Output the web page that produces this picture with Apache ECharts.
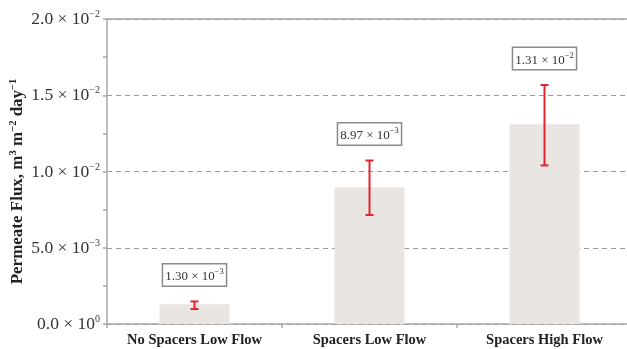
<!DOCTYPE html>
<html>
<head>
<meta charset="utf-8">
<script src="https://cdn.jsdelivr.net/npm/echarts@6/dist/echarts.min.js"></script>
<style>html,body{margin:0;padding:0;background:#fff;}#c{width:627px;height:349px;}</style>
</head>
<body>
<div id="c"></div>
<script>
var categories = ['No Spacers Low Flow', 'Spacers Low Flow', 'Spacers High Flow'];
var fluxValues = [0.00130, 0.00897, 0.0131];
var errLow = [0.00098, 0.00715, 0.0104];
var errHigh = [0.00148, 0.01072, 0.01567];
var labelMantissa = ['1.30', '8.97', '1.31'];
var labelExponent = ['−3', '−3', '−2'];
var yTickMantissa = {'0': '0.0', '0.005': '5.0', '0.01': '1.0', '0.015': '1.5', '0.02': '2.0'};
var yTickExponent = {'0': '0', '0.005': '−3', '0.01': '−2', '0.015': '−2', '0.02': '−2'};

var serif = '"Liberation Serif", "DejaVu Serif", serif';
var axisGray = '#a8a8a8';

var errData = categories.map(function (c, i) { return [i, errLow[i], errHigh[i], i]; });

var chart = echarts.init(document.getElementById('c'), null, {renderer: 'canvas'});
chart.setOption({
  animation: false,
  backgroundColor: '#ffffff',
  grid: {left: 107, top: 19, bottom: 25, right: -5, outerBoundsMode: 'none', containLabel: false, show: false},
  xAxis: [{
    type: 'category',
    data: categories,
    axisLine: {lineStyle: {color: axisGray, width: 1.5}},
    axisTick: {show: true, interval: 0, length: 4, lineStyle: {color: axisGray, width: 1.5}},
    axisLabel: {interval: 0, hideOverlap: false, fontFamily: serif, fontWeight: 'bold', fontSize: 14.5, color: '#222', margin: 9}
  }, {
    type: 'category',
    position: 'top',
    data: categories,
    axisLine: {show: true, lineStyle: {color: axisGray, width: 1.5}},
    axisTick: {show: false},
    axisLabel: {show: false}
  }],
  yAxis: {
    type: 'value',
    min: 0, max: 0.02, interval: 0.005,
    name: '{b|Permeate Flux, m}{s|3}{b| m}{s|−2}{b| day}{s|−1}',
    nameLocation: 'middle',
    nameGap: 81,
    nameMoveOverlap: false,
    nameTextStyle: {
      fontFamily: serif, fontWeight: 'bold', fontSize: 17, color: '#222',
      padding: [0, 20, 0, 0],
      rich: {
        b: {fontFamily: serif, fontWeight: 'bold', fontSize: 17, color: '#222', lineHeight: 18, verticalAlign: 'bottom'},
        s: {fontFamily: serif, fontWeight: 'bold', fontSize: 10.5, color: '#222', lineHeight: 18, verticalAlign: 'top'}
      }
    },
    axisLine: {show: true, lineStyle: {color: axisGray, width: 1.5}},
    axisTick: {show: true, length: 4, lineStyle: {color: axisGray, width: 1.5}},
    minorTick: {show: true, splitNumber: 2, length: 4, lineStyle: {color: axisGray, width: 1.5}},
    splitLine: {show: true, lineStyle: {color: '#9a9a9a', type: [5, 4], width: 1}},
    axisLabel: {
      margin: 7,
      formatter: function (v) {
        var k = String(Math.round(v * 1000) / 1000);
        if (yTickMantissa[k] === undefined) return '';
        return '{b|' + yTickMantissa[k] + ' × 10}{s|' + yTickExponent[k] + '}';
      },
      rich: {
        b: {fontFamily: serif, fontSize: 17.5, color: '#333', lineHeight: 19, verticalAlign: 'bottom'},
        s: {fontFamily: serif, fontSize: 10, color: '#333', lineHeight: 19, verticalAlign: 'top'}
      }
    }
  },
  series: [
    {
      type: 'bar',
      data: fluxValues,
      barWidth: '40%',
      itemStyle: {color: '#e9e5e3'},
      z: 2
    },
    {
      type: 'custom',
      data: errData,
      z: 5,
      renderItem: function (params, api) {
        var x = api.value(0);
        var idx = api.value(3);
        var lo = api.coord([x, api.value(1)]);
        var hi = api.coord([x, api.value(2)]);
        var cap = 4;
        var ls = {stroke: '#e0242c', lineWidth: 2};
        return {
          type: 'group',
          children: [
            {type: 'line', shape: {x1: lo[0], y1: lo[1], x2: hi[0], y2: hi[1]}, style: ls},
            {type: 'line', shape: {x1: lo[0] - cap, y1: lo[1], x2: lo[0] + cap, y2: lo[1]}, style: ls},
            {type: 'line', shape: {x1: hi[0] - cap, y1: hi[1], x2: hi[0] + cap, y2: hi[1]}, style: ls},
            {
              type: 'text',
              style: {
                text: '{b|' + labelMantissa[idx] + ' × 10}{s|' + labelExponent[idx] + '}',
                x: hi[0], y: hi[1] - 16,
                align: 'center', verticalAlign: 'bottom',
                backgroundColor: '#fff', borderColor: '#8a8a8a', borderWidth: 1.5,
                padding: [3, 2, 2, 2],
                rich: {
                  b: {fontFamily: serif, fontSize: 13, fill: '#333', lineHeight: 16, verticalAlign: 'bottom'},
                  s: {fontFamily: serif, fontSize: 8.5, fill: '#333', lineHeight: 16, verticalAlign: 'top'}
                }
              }
            }
          ]
        };
      }
    }
  ]
});
</script>
</body>
</html>
